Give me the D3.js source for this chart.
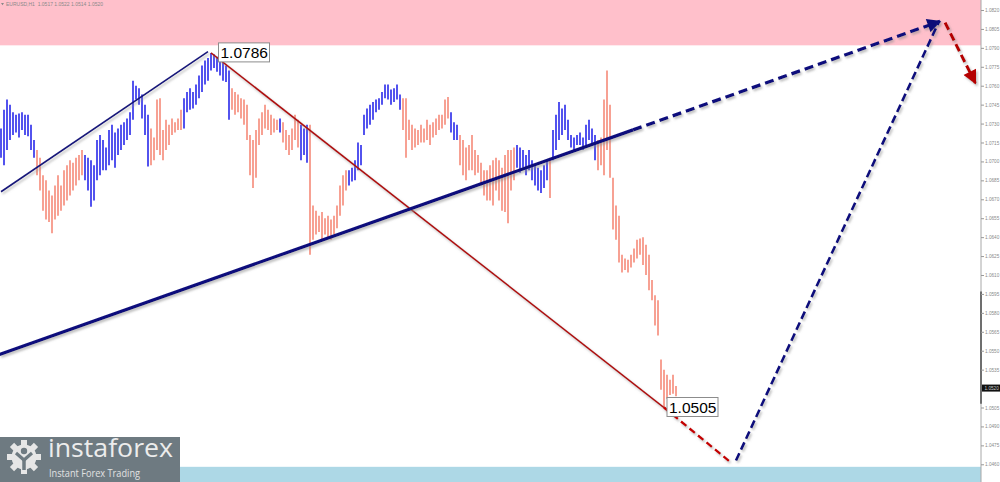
<!DOCTYPE html>
<html><head><meta charset="utf-8">
<script src="https://cdn.jsdelivr.net/npm/d3@7/dist/d3.min.js"></script>
<style>html,body{margin:0;padding:0;background:#fff;overflow:hidden;}svg{display:block;}</style>
</head><body>
<svg id="chart" width="1000" height="482"></svg>
<script>
// ---- data (EURUSD H1) ----
const barHigh = [
1.0726,1.0741,1.0749,1.0745,1.0739,1.0737,1.0738,1.0739,1.0737,1.0737,1.0729,1.0717,
1.0709,1.0703,1.0689,1.0685,1.0677,1.0673,1.0681,1.0689,1.0681,1.0693,1.0697,1.0701,1.0699,1.0703,1.0705,1.0709,
1.0705,1.0703,1.0701,1.0697,1.0717,1.0721,1.0717,1.0711,1.0725,1.0729,1.0723,1.0726,1.0729,1.0731,1.0734,1.0739,1.0764,1.0760,1.0758,1.0753,1.0745,1.0737,
1.0726,1.0719,1.0749,1.0750,1.0725,1.0733,1.0729,1.0734,1.0731,1.0734,1.0741,
1.0750,1.0755,1.0758,1.0755,1.0761,1.0768,1.0776,1.0780,1.0782,1.0786,1.0785,1.0783,1.0782,1.0779,1.0776,1.0772,
1.0758,1.0755,1.0753,1.0750,1.0749,1.0745,1.0721,1.0717,1.0725,1.0734,1.0739,1.0745,1.0741,1.0737,1.0734,1.0733,
1.0734,
1.0731,1.0725,1.0721,1.0726,1.0737,1.0733,
1.0729,1.0726,1.0729,
1.0729,1.0665,1.0661,1.0657,1.0660,1.0655,1.0657,1.0654,1.0657,1.0665,1.0681,1.0689,1.0693,
1.0693,1.0695,1.0701,1.0715,1.0713,1.0737,1.0742,1.0745,1.0747,1.0749,1.0750,1.0755,1.0761,1.0761,1.0757,1.0758,1.0761,1.0753,
1.0750,1.0750,1.0733,1.0729,1.0726,1.0725,1.0729,1.0726,1.0733,1.0729,1.0731,1.0734,1.0737,1.0737,1.0749,1.0751,
1.0739,1.0731,1.0729,
1.0721,1.0717,1.0711,1.0713,1.0721,1.0709,1.0705,1.0699,1.0693,1.0693,1.0697,1.0701,1.0703,1.0701,1.0695,1.0705,1.0709,1.0709,1.0711,
1.0713,1.0711,1.0709,1.0705,1.0709,1.0701,1.0697,1.0695,1.0693,1.0697,1.0701,
1.0703,
1.0725,1.0737,1.0747,1.0742,1.0745,1.0733,1.0721,1.0719,1.0721,1.0723,1.0719,1.0729,1.0733,1.0726,1.0721,
1.0717,1.0719,1.0749,1.0772,1.0745,1.0687,1.0665,1.0657,1.0626,1.0623,1.0622,1.0626,1.0631,1.0638,1.0639,1.0640,1.0634,1.0626,1.0606,1.0594,1.0590,1.0543,1.0535,1.0531,1.0527,1.0531,1.0522
];
const barLow = [
1.0703,1.0697,1.0709,1.0717,1.0721,1.0723,1.0719,1.0725,1.0721,1.0720,1.0709,1.0703,
1.0689,1.0677,1.0661,1.0654,1.0652,1.0643,1.0654,1.0657,1.0661,1.0665,1.0669,1.0673,1.0677,1.0681,1.0685,1.0689,
1.0685,1.0677,1.0664,1.0669,1.0685,1.0689,1.0693,1.0693,1.0697,1.0701,1.0695,1.0705,1.0709,1.0713,1.0717,1.0721,1.0733,1.0749,1.0745,1.0734,1.0721,1.0696,
1.0697,1.0701,1.0709,1.0705,1.0701,1.0709,1.0713,1.0721,1.0723,1.0725,1.0725,
1.0726,1.0739,1.0741,1.0742,1.0745,1.0750,1.0755,1.0761,1.0764,1.0772,1.0774,1.0771,1.0768,1.0764,1.0763,1.0733,
1.0741,1.0737,1.0739,1.0734,1.0729,1.0717,1.0689,1.0679,1.0687,1.0713,1.0721,1.0726,1.0725,1.0721,1.0723,1.0725,
1.0723,
1.0715,1.0709,1.0705,1.0709,1.0717,1.0711,
1.0701,1.0705,1.0699,
1.0626,1.0638,1.0642,1.0644,1.0638,1.0642,1.0639,1.0638,1.0642,1.0647,1.0657,1.0665,1.0677,
1.0681,1.0684,1.0685,1.0693,1.0697,1.0721,1.0726,1.0729,1.0733,1.0739,1.0741,1.0745,1.0750,1.0749,1.0745,1.0747,1.0749,1.0741,
1.0725,1.0703,1.0717,1.0709,1.0711,1.0713,1.0715,1.0715,1.0717,1.0713,1.0719,1.0721,1.0725,1.0726,1.0729,1.0734,
1.0723,1.0717,1.0717,
1.0697,1.0689,1.0685,1.0693,1.0693,1.0689,1.0691,1.0681,1.0673,1.0669,1.0669,1.0665,1.0677,1.0669,1.0661,1.0660,1.0651,1.0677,1.0685,
1.0695,1.0691,1.0695,1.0689,1.0693,1.0685,1.0681,1.0677,1.0675,1.0679,1.0685,
1.0671,
1.0701,1.0709,1.0717,1.0721,1.0725,1.0717,1.0711,1.0709,1.0713,1.0713,1.0709,1.0713,1.0717,1.0713,1.0701,
1.0693,1.0697,1.0689,1.0709,1.0687,1.0646,1.0638,1.0620,1.0612,1.0614,1.0612,1.0616,1.0620,1.0623,1.0626,1.0618,1.0610,1.0598,1.0590,1.0570,1.0562,1.0519,1.0505,1.0512,1.0515,1.0516,1.0514
];
// wave colouring: [number of bars, direction]
const waveRuns = [[12,"up"],[16,"down"],[22,"up"],[11,"down"],[16,"up"],[16,"down"],[1,"up"],[6,"down"],[3,"up"],
  [13,"down"],[18,"up"],[16,"down"],[3,"up"],[19,"down"],[11,"up"],[1,"down"],[15,"up"],[27,"down"]];
const priceTicks = [1.0820,1.0805,1.0790,1.0775,1.0760,1.0745,1.0730,1.0715,1.0700,1.0685,1.0670,1.0655,1.0640,
  1.0625,1.0610,1.0595,1.0580,1.0565,1.0550,1.0535,1.0505,1.0490,1.0475,1.0460];
const headerText = "EURUSD,H1  1.0517 1.0522 1.0514 1.0520";
const lastPrice = 1.0520;
const resistanceZone = [1.0792, 1.0830];
const supportZone = [1.0440, 1.0458];
// wave lines: [bar index, price]
const upperChannel = [[0,1.0676],[69,1.0787]];
const mainTrend = [[-0.5,1.0547],[210.7,1.0725]];
const mainTrendExt = [[210.7,1.0725],[313,1.0811]];
const downWave = [[70,1.0786],[221,1.0505]];
const downWaveExt = [[221,1.0505],[243,1.0462]];
const upProjection = [[245,1.0463],[312.5,1.0810]];
const finalDown = [[314.7,1.0810],[324.8,1.0762]];
const labels = [{i:72.5, p:1.0786, text:"1.0786"},{i:222, p:1.0505, text:"1.0505"}];

// ---- chart ----
const W = 1000, H = 482, axisX = 981;
const svg = d3.select("#chart");
const x = d3.scaleLinear().domain([0, barHigh.length - 1]).range([1, 676]);
const y = d3.scaleLinear().domain([1.044597, 1.082792]).range([H, 0]);
const FONT = "Liberation Sans, Arial, sans-serif";

const defs = svg.append("defs");
const f = defs.append("filter").attr("id","sh").attr("x","-10%").attr("y","-10%").attr("width","120%").attr("height","130%");
f.append("feDropShadow").attr("dx",1.5).attr("dy",2).attr("stdDeviation",0.8).attr("flood-color","#888").attr("flood-opacity",0.55);
function marker(id, color){
  defs.append("marker").attr("id",id).attr("markerUnits","userSpaceOnUse")
    .attr("viewBox","0 0 10 10").attr("refX",9).attr("refY",5)
    .attr("markerWidth",16).attr("markerHeight",14).attr("orient","auto")
    .append("path").attr("d","M0,0 L10,5 L0,10 z").attr("fill",color);
}
marker("arrNavy","#0b0b78");
marker("arrRed","#b50000");

// zones
svg.append("rect").attr("x",0).attr("y",y(resistanceZone[1])).attr("width",axisX)
  .attr("height",y(resistanceZone[0]) - y(resistanceZone[1])).attr("fill","#ffc0cb");
svg.append("rect").attr("x",0).attr("y",y(supportZone[1])).attr("width",axisX)
  .attr("height",y(supportZone[0]) - y(supportZone[1])).attr("fill","#add8e6");

// bar colours from runs
const barDir = [];
waveRuns.forEach(([n,d]) => { for (let k=0;k<n;k++) barDir.push(d); });
const bars = barHigh.map((h,i) => ({i, h, l: barLow[i], d: barDir[i]}));
svg.append("g").selectAll("line").data(bars).join("line")
  .attr("x1", d => x(d.i)).attr("x2", d => x(d.i))
  .attr("y1", d => y(d.h)).attr("y2", d => y(d.l))
  .attr("stroke", d => d.d === "up" ? "#1a1ae8" : "#f5826f")
  .attr("stroke-width", 1.5);

const line = d3.line().x(d => x(d[0])).y(d => y(d[1]));
function drawLine(pts, color, w, dash, mk){
  const p = svg.append("path").datum(pts).attr("d", line).attr("fill","none")
    .attr("stroke", color).attr("stroke-width", w).attr("filter","url(#sh)");
  if (dash) p.attr("stroke-dasharray", dash);
  if (mk) p.attr("marker-end", `url(#${mk})`);
}
drawLine(upperChannel, "#14147a", 1.6);
drawLine(downWave, "#b01010", 1.6);
drawLine(mainTrend, "#0d0d7c", 3.2);
drawLine(mainTrendExt, "#0d0d7c", 3.2, "9,5", "arrNavy");
drawLine(downWaveExt, "#c40000", 2.4, "7,4");
drawLine(upProjection, "#0d0d7c", 2.6, "8,4");
drawLine(finalDown, "#b50000", 3, "8,4", "arrRed");

// price labels
labels.forEach(lb => {
  const g = svg.append("g").attr("transform", `translate(${x(lb.i)},${y(lb.p)})`);
  g.append("rect").attr("x",0).attr("y",-10).attr("width",51).attr("height",19)
    .attr("fill","#fff").attr("stroke","#8c8c8c").attr("stroke-width",1);
  g.append("text").attr("x",2).attr("y",5.5).attr("font-family",FONT)
    .attr("font-size",15.5).attr("fill","#000").text(lb.text);
});

// right axis
svg.append("line").attr("x1",axisX).attr("x2",axisX).attr("y1",0).attr("y2",H).attr("stroke","#a8a8a8").attr("stroke-width",1);
svg.append("line").attr("x1",axisX).attr("x2",axisX).attr("y1",y(1.0597)).attr("y2",y(1.0508)).attr("stroke","#555").attr("stroke-width",1.6);
const ax = svg.append("g").attr("transform",`translate(${axisX},0)`)
  .call(d3.axisRight(y).tickValues(priceTicks).tickSize(3).tickPadding(1).tickFormat(d3.format(".4f")));
ax.select(".domain").remove();
ax.selectAll(".tick line").attr("stroke","#999");
ax.selectAll(".tick text").attr("font-family",FONT).attr("font-size",4.7).attr("fill","#8a8a8a");
// current price marker
svg.append("rect").attr("x",axisX+1).attr("y",y(lastPrice)-4).attr("width",18).attr("height",7).attr("fill","#111");
svg.append("text").attr("x",axisX+3.5).attr("y",y(lastPrice)+1.7).attr("font-family",FONT)
  .attr("font-size",4.7).attr("fill","#ccc").text(d3.format(".4f")(lastPrice));

// header
svg.append("path").attr("d","M1,3 L4,3 L2.5,5.3 z").attr("fill","#888");
svg.append("text").attr("x",6).attr("y",6).attr("font-family",FONT)
  .attr("font-size",5).attr("fill","#8a8a8a").attr("xml:space","preserve").text(headerText);

// logo
const logo = svg.append("g");
logo.append("rect").attr("x",0).attr("y",437).attr("width",180).attr("height",45).attr("fill","#6e7a81");
const gc = [24, 457];
for (let k=0;k<8;k++){
  logo.append("rect").attr("x",gc[0]-3).attr("y",gc[1]-17).attr("width",6).attr("height",7)
    .attr("fill","#e6e6e6").attr("transform",`rotate(${k*45},${gc[0]},${gc[1]})`);
}
logo.append("circle").attr("cx",gc[0]).attr("cy",gc[1]).attr("r",12.5).attr("fill","#e6e6e6");
logo.append("circle").attr("cx",gc[0]).attr("cy",gc[1]-6).attr("r",3.2).attr("fill","#6e7a81");
logo.append("path").attr("d",`M${gc[0]-8},${gc[1]-4} L${gc[0]},${gc[1]+3} L${gc[0]+8},${gc[1]-4}`)
  .attr("fill","none").attr("stroke","#6e7a81").attr("stroke-width",3.2);
logo.append("line").attr("x1",gc[0]).attr("x2",gc[0]).attr("y1",gc[1]+2).attr("y2",gc[1]+13)
  .attr("stroke","#6e7a81").attr("stroke-width",3.5);
logo.append("text").attr("x",48).attr("y",457).attr("font-family","Open Sans, Lato, sans-serif")
  .attr("font-size",25).attr("fill","#ececec").attr("textLength",125).attr("lengthAdjust","spacingAndGlyphs").text("instaforex");
logo.append("text").attr("x",49).attr("y",477).attr("font-family","Open Sans, Lato, sans-serif")
  .attr("font-size",11).attr("fill","#e2e2e2").attr("textLength",91).attr("lengthAdjust","spacingAndGlyphs").text("Instant Forex Trading");
</script>
</body></html>
